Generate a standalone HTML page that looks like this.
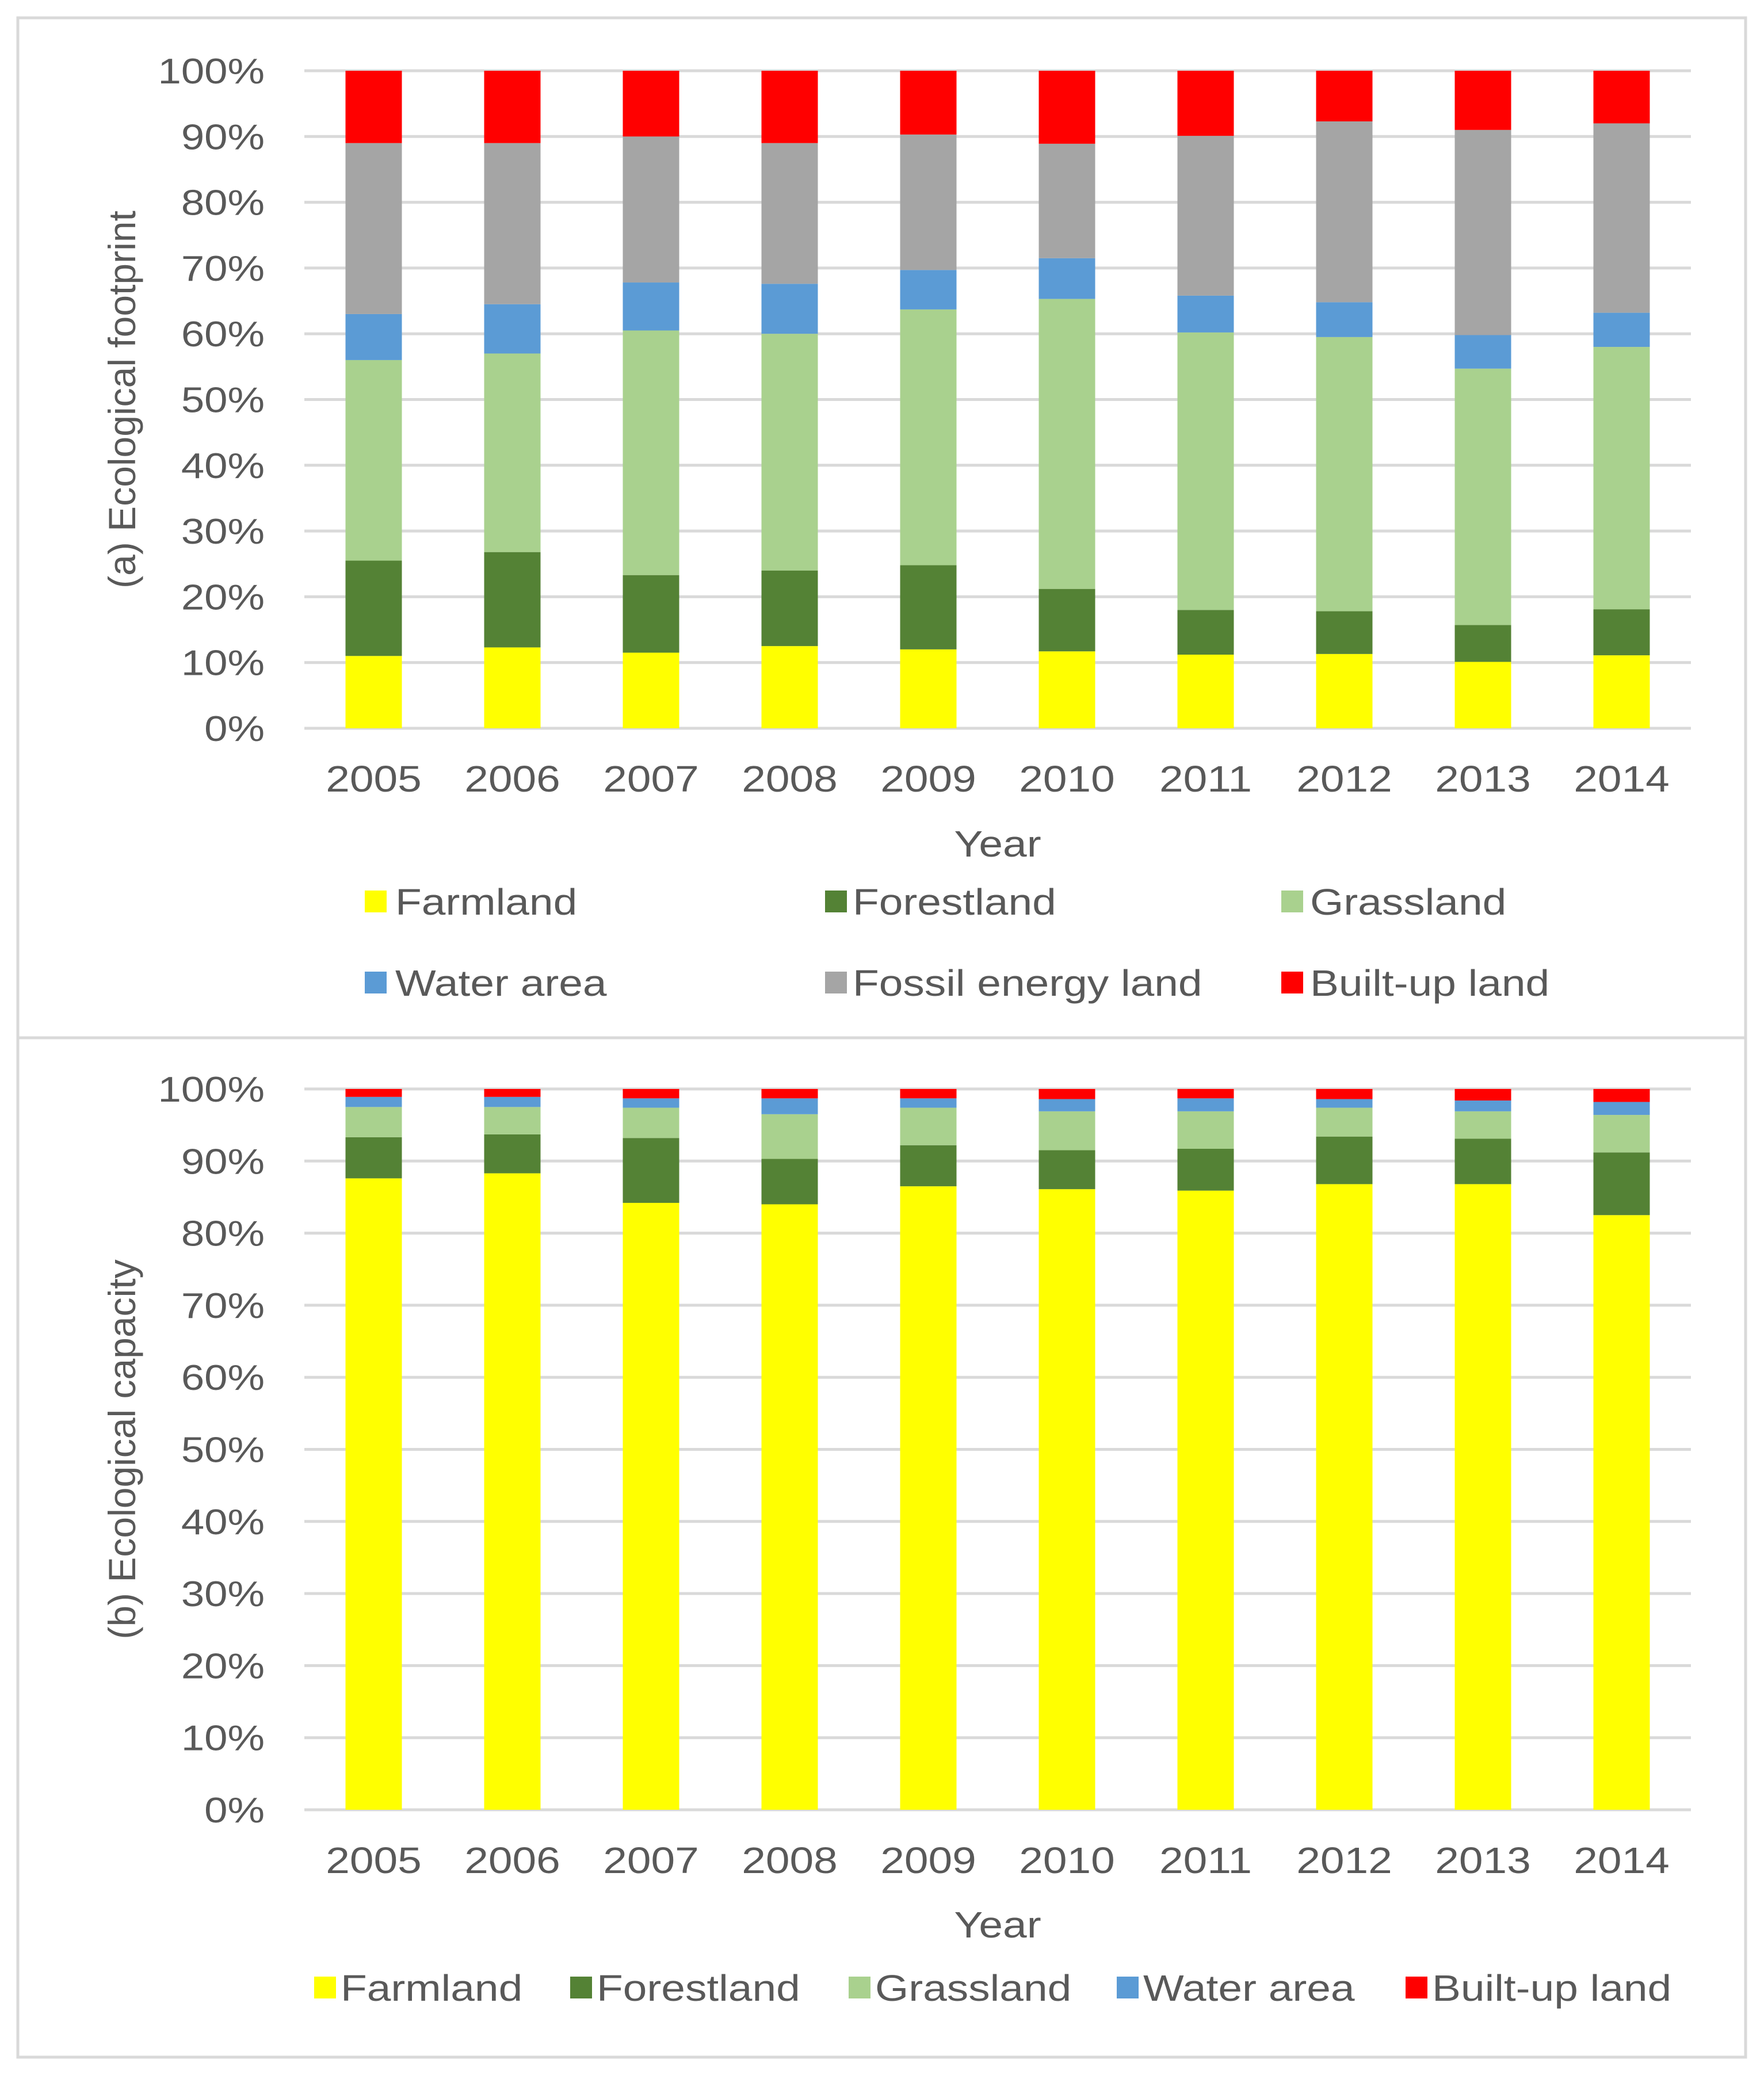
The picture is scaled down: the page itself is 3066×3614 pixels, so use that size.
<!DOCTYPE html>
<html><head><meta charset="utf-8"><style>
html,body{margin:0;padding:0;background:#fff}
svg{display:block;font-family:"Liberation Sans",Arial,sans-serif}
</style></head><body>
<svg id="chart" width="3066" height="3614" viewBox="0 0 3066 3614" xmlns="http://www.w3.org/2000/svg">
<rect x="31" y="31" width="3003" height="3545" fill="#fff" stroke="#D9D9D9" stroke-width="5"/>
<line x1="31" y1="1804" x2="3034" y2="1804" stroke="#D9D9D9" stroke-width="5"/>
<g id="top"></g><g id="bottom"></g>
</svg>
<script>
const years = ['2005','2006','2007','2008','2009','2010','2011','2012','2013','2014'];
const yTicks = ['0%','10%','20%','30%','40%','50%','60%','70%','80%','90%','100%'];
const seriesNamesA = ['Farmland','Forestland','Grassland','Water area','Fossil energy land','Built-up land'];
const seriesNamesB = ['Farmland','Forestland','Grassland','Water area','Built-up land'];
// panel (a) percentages per series
const aFarmland = [11, 12.3, 11.5, 12.5, 12, 11.7, 11.2, 11.3, 10.1, 11.1];
const aForestland = [14.5, 14.5, 11.8, 11.5, 12.8, 9.5, 6.8, 6.5, 5.6, 7];
const aGrassland = [30.5, 30.2, 37.2, 36, 38.9, 44.1, 42.2, 41.7, 39, 39.9];
const aWater = [7, 7.5, 7.3, 7.6, 6, 6.2, 5.6, 5.3, 5.1, 5.2];
const aFossil = [26, 24.5, 22.2, 21.4, 20.6, 17.4, 24.3, 27.5, 31.2, 28.8];
const aBuilt = [11, 11, 10, 11, 9.7, 11.1, 9.9, 7.7, 9, 8];
// panel (b) percentages per series
const bFarmland = [87.6, 88.3, 84.2, 84, 86.5, 86.1, 85.9, 86.8, 86.8, 82.5];
const bForestland = [5.7, 5.4, 9, 6.3, 5.7, 5.4, 5.8, 6.6, 6.3, 8.7];
const bGrassland = [4.2, 3.8, 4.2, 6.2, 5.2, 5.4, 5.2, 4, 3.8, 5.2];
const bWater = [1.4, 1.4, 1.3, 2.2, 1.3, 1.7, 1.8, 1.2, 1.5, 1.8];
const bBuilt = [1.1, 1.1, 1.3, 1.3, 1.3, 1.4, 1.3, 1.4, 1.6, 1.8];

const colorsA = ['#FFFF00','#548235','#A9D18E','#5B9BD5','#A5A5A5','#FF0000'];
const colorsB = ['#FFFF00','#548235','#A9D18E','#5B9BD5','#FF0000'];
const NS='http://www.w3.org/2000/svg';
const SX=1.17;
function mk(parent,tag,attrs,text){const e=document.createElementNS(NS,tag);for(const k in attrs)e.setAttribute(k,attrs[k]);if(text!==undefined)e.textContent=text;parent.appendChild(e);return e;}
function stxt(parent,x,y,anchor,size,str){
  return mk(parent,'text',{x:0,y:0,'text-anchor':anchor,'font-size':size,fill:'#595959',transform:'translate('+x+','+y+') scale('+SX+',1)'},str);
}

function drawPanel(g, cfg){
  const x0=529, x1=2939, yTop=cfg.yTop, yBot=cfg.yBot;
  const band=(x1-x0)/years.length, bw=98;
  const yS=v=>yBot-(v/100)*(yBot-yTop);
  const xS=i=>x0+band*i+band/2;
  yTicks.forEach((t,i)=>{
    const v=i*10;
    const l=mk(g,'line',{x1:x0,x2:x1,y1:yS(v),y2:yS(v),stroke:'#D9D9D9','stroke-width':5});
    
    
    const tx=stxt(g,460,yS(v)+22,'end',62,t);
    
    
  });
  years.forEach((yr,i)=>{
    let cum=0;
    cfg.series.forEach((s,si)=>{
      const v=s[i];
      const r=mk(g,'rect',{x:xS(i)-bw/2,y:yS(cum+v),width:bw,height:yS(cum)-yS(cum+v),fill:cfg.colors[si]});
      
      
      cum+=v;
    });
    const t=stxt(g,xS(i),yBot+110,'middle',64,yr);
    
    
  });
  const xt=stxt(g,(x0+x1)/2,cfg.xTitleY,'middle',64,'Year');
  
  
  const yt=mk(g,'text',{x:0,y:0,'text-anchor':'middle','font-size':66,fill:'#595959',transform:'translate(235,'+((yTop+yBot)/2)+') rotate(-90)'},cfg.yTitle);
  
  
  cfg.legend.forEach((p,i)=>{
    const lg=mk(g,'g',{});
    
    
    mk(lg,'rect',{x:p[0],y:p[2]-19,width:38,height:38,fill:cfg.colors[i]});
    stxt(lg,p[1],p[2]+23,'start',64,cfg.names[i]);
  });
}
drawPanel(document.getElementById('top'),{
  yTop:123,yBot:1266,xTitleY:1489,yTitle:'(a) Ecological footprint',
  series:[aFarmland,aForestland,aGrassland,aWater,aFossil,aBuilt],colors:colorsA,names:seriesNamesA,
  legend:[[634,687,1567],[1434,1482,1567],[2227,2277,1567],[634,687,1708],[1434,1482,1708],[2227,2277,1708]]
});
drawPanel(document.getElementById('bottom'),{
  yTop:1893,yBot:3146,xTitleY:3368,yTitle:'(b) Ecological capacity',
  series:[bFarmland,bForestland,bGrassland,bWater,bBuilt],colors:colorsB,names:seriesNamesB,
  legend:[[546,592,3455],[991,1037,3455],[1475,1521,3455],[1941,1987,3455],[2443,2489,3455]]
});
</script>
</body></html>
